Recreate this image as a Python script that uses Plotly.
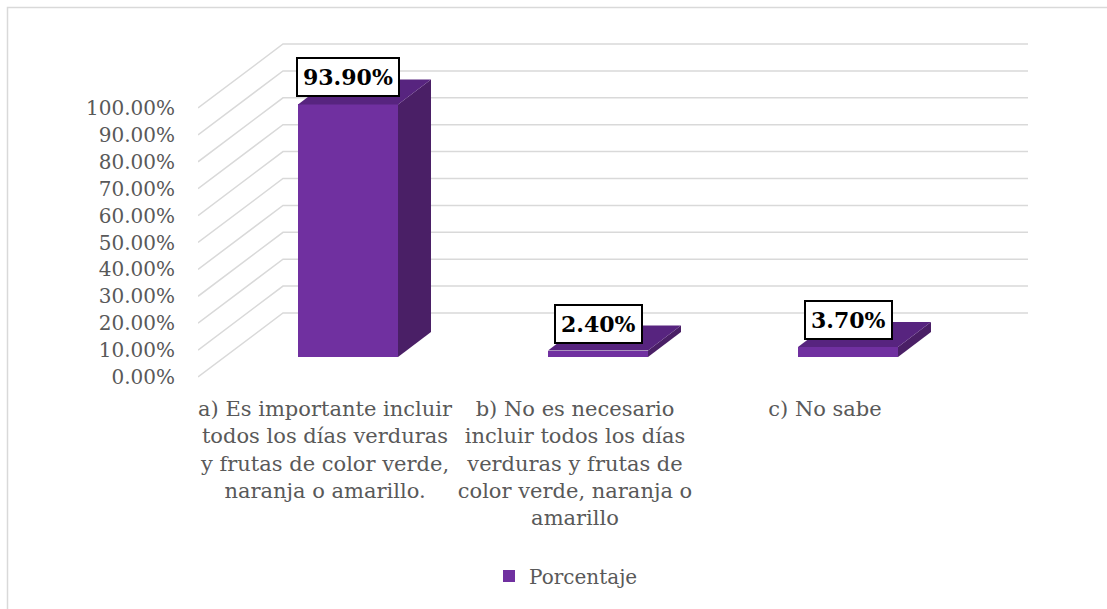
import plotly.graph_objects as go

categories = [
    "a) Es importante incluir<br>todos los días verduras<br>y frutas de color verde,<br>naranja o amarillo.",
    "b) No es necesario<br>incluir todos los días<br>verduras y frutas de<br>color verde, naranja o<br>amarillo",
    "c) No sabe",
]
porcentaje = [0.939, 0.024, 0.037]
y_ticks = [0.0, 0.1, 0.2, 0.3, 0.4, 0.5, 0.6, 0.7, 0.8, 0.9, 1.0]
series_name = "Porcentaje"

# page geometry (px)
W, H = 1107, 609
L, R, T, B = 198, 79, 20, 217
PX_X = 250.0   # px per category
PX_Y = 269.0   # px per 100 %

FRONT_COL = "#7030A0"
SIDE_COL = "#4A1F66"
TOP_COL = "#57247F"
GRID_COL = "#D9D9D9"
TXT_COL = "#595959"
FONT = "DejaVu Serif"

plot_w = W - L - R
plot_h = H - T - B

# floor-front plane (axis labels + gridlines)
x_lo = -127 / PX_X
x_hi = x_lo + plot_w / PX_X
y_lo = -(plot_h - 357) / PX_Y
y_hi = y_lo + plot_h / PX_Y

# bar plane sits a bit deeper (right / up)
shift_x = 23 / PX_X
shift_y = 20 / PX_Y
# depth of the back wall and of the bars
wall_dx, wall_dy = 85 / PX_X, 64 / PX_Y
bar_dx, bar_dy = 33 / PX_X, 25 / PX_Y
half_w = 0.2

xs = list(range(len(categories)))

fig = go.Figure()

fig.add_trace(go.Bar(
    x=xs, y=porcentaje, name=series_name,
    width=2 * half_w,
    marker=dict(color=FRONT_COL, line=dict(width=0)),
    xaxis="x2", yaxis="y2",
    hoverinfo="skip",
))

shapes = []
# perspective gridlines
for t in y_ticks:
    shapes.append(dict(
        type="path", xref="x", yref="y", layer="below",
        path=f"M {x_lo},{t} L {x_lo + wall_dx},{t + wall_dy} L {x_hi},{t + wall_dy}",
        line=dict(color=GRID_COL, width=1.5),
    ))

# 3d faces of the bars
for i, v in zip(xs, porcentaje):
    x0, x1 = i - half_w, i + half_w
    shapes.append(dict(
        type="path", xref="x2", yref="y2", layer="above",
        path=(f"M {x1},0 L {x1 + bar_dx},{bar_dy} L {x1 + bar_dx},{v + bar_dy} "
              f"L {x1},{v} Z"),
        fillcolor=SIDE_COL, line=dict(width=0),
    ))
    shapes.append(dict(
        type="path", xref="x2", yref="y2", layer="above",
        path=(f"M {x0},{v} L {x1},{v} L {x1 + bar_dx},{v + bar_dy} "
              f"L {x0 + bar_dx},{v + bar_dy} Z"),
        fillcolor=TOP_COL, line=dict(width=0),
    ))

# outer chart border
shapes.append(dict(
    type="rect", xref="paper", yref="paper",
    x0=(7.5 - L) / plot_w, x1=(W + 10 - L) / plot_w,
    y0=(T + plot_h - H - 10) / plot_h, y1=(T + plot_h - 7.5) / plot_h,
    line=dict(color=GRID_COL, width=1.5), layer="below",
))

annotations = []
for i, v in zip(xs, porcentaje):
    annotations.append(dict(
        x=i, y=v, xref="x2", yref="y2",
        text=f"<b>{v:.2%}</b>", showarrow=False, yshift=27,
        font=dict(family=FONT, size=22, color="black"),
        bgcolor="white", bordercolor="black", borderwidth=2, borderpad=5,
    ))

fig.update_layout(
    width=W, height=H,
    margin=dict(l=L, r=R, t=T, b=B),
    paper_bgcolor="white", plot_bgcolor="rgba(0,0,0,0)",
    font=dict(family=FONT, size=20, color=TXT_COL),
    shapes=shapes, annotations=annotations,
    bargap=0,
    showlegend=True,
    legend=dict(
        orientation="h", x=(566 - L) / plot_w, xanchor="center",
        y=(T + plot_h - 576) / plot_h, yanchor="middle",
        font=dict(family=FONT, size=20, color=TXT_COL),
        itemwidth=30,
    ),
    xaxis=dict(
        range=[x_lo, x_hi], tickvals=xs, ticktext=categories,
        tickfont=dict(size=21),
        showgrid=False, zeroline=False, showline=False,
        ticks="", ticklabelstandoff=2, fixedrange=True,
    ),
    yaxis=dict(
        range=[y_lo, y_hi], tickvals=y_ticks, tickformat=".2%",
        showgrid=False, zeroline=False, showline=False,
        ticks="", ticklabelstandoff=22, fixedrange=True,
    ),
    xaxis2=dict(
        range=[x_lo - shift_x, x_hi - shift_x], overlaying="x",
        visible=False, fixedrange=True,
    ),
    yaxis2=dict(
        range=[y_lo - shift_y, y_hi - shift_y], overlaying="y",
        visible=False, fixedrange=True,
    ),
)

fig.write_html(
    "out.html",
    config={"displayModeBar": False},
    post_script="document.body.style.margin='0';",
)
